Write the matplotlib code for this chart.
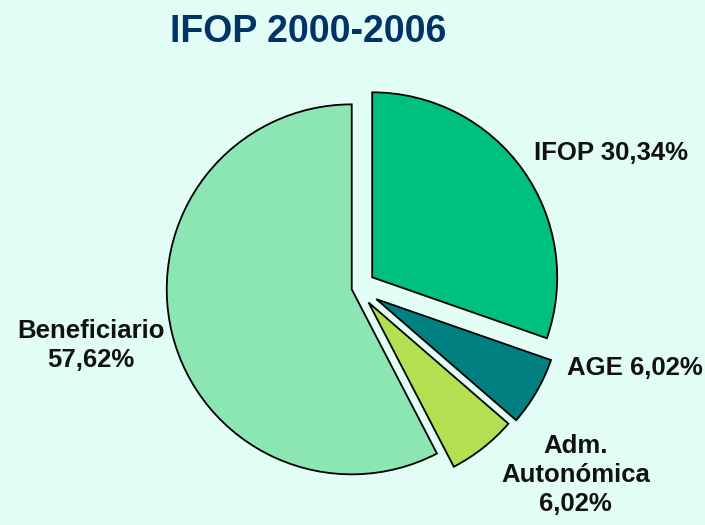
import matplotlib.pyplot as plt

labels = ["IFOP 30,34%", "AGE 6,02%", "Adm.\nAutonómica\n6,02%", "Beneficiario\n57,62%"]
values = [30.34, 6.02, 6.02, 57.62]
colors = ["#00c080", "#008080", "#b3e050", "#8ce6b4"]
explode = [0.10, 0.12, 0.10, 0.03]

plt.rcParams['font.family'] = ['Liberation Sans', 'DejaVu Sans']

fig = plt.figure(figsize=(7.05, 5.25), dpi=100)
fig.patch.set_facecolor("#e2fdf6")
ax = fig.add_axes([0, 0, 1, 1])
ax.set_facecolor("#e2fdf6")

wedges, texts = ax.pie(values, labels=labels, colors=colors, explode=explode,
                       startangle=90, counterclock=False,
                       wedgeprops=dict(edgecolor="black", linewidth=1.3),
                       textprops=dict(fontsize=18.5, fontweight="bold", color="#111111"))

# label placement
pos = [(1.37, 0.73), (1.50, -0.43), (1.18, -1.01), (-1.44, -0.31)]
for t, p in zip(texts, pos):
    t.set_position(p)
    t.set_ha("center")
    t.set_va("center")
    t.set_multialignment("center")
    t.set_linespacing(1.25)

ax.set_xlim(-1.93, 1.88)
ax.set_ylim(-1.281, 1.557)
ax.set_aspect("equal")
ax.axis("off")

fig.text(0.437, 0.94, "IFOP 2000-2006", ha="center", va="center",
         fontsize=27, fontweight="bold", color="#003366")

fig.savefig("out.png", dpi=100, facecolor=fig.get_facecolor())
